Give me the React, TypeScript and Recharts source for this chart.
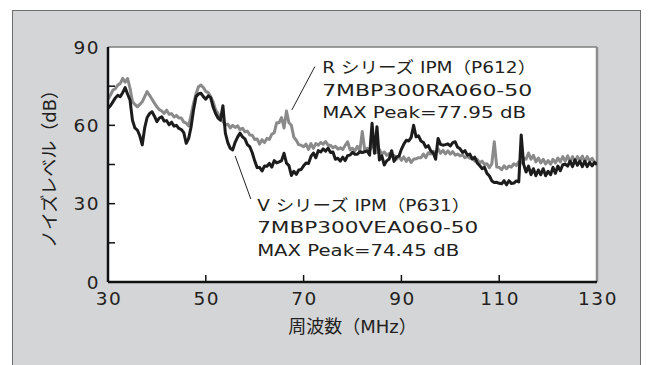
import React from 'react';
import { LineChart, Line, XAxis, YAxis, CartesianGrid, ReferenceLine, ReferenceDot } from 'recharts';

// Frequency sampling (MHz): first point and step of the hand-read samples
const FREQ_START = 30;
const FREQ_STEP = 0.5;

// R series IPM (P612) noise level, dB, read every 0.5 MHz from 30 to 130 MHz
const rSeriesDb = [
  70, 71.6, 73.5, 74, 75.4, 76, 78, 76.5, 77.95, 74.2,
  69, 68, 67.1, 68, 69, 71, 72.9, 71.5, 70, 68.5,
  67.1, 66, 65.5, 64.6, 65.8, 64.2, 64.5, 63.2, 63.8, 62.8,
  62.8, 61.2, 60.8, 59.8, 64, 68.4, 72, 74.8, 75.4, 74.5,
  73, 72.5, 71, 69, 65.9, 64.5, 62, 61.5, 60.1, 60.5,
  59, 60, 59.2, 59.8, 58.3, 58.9, 57.5, 57.8, 56.3, 56.2,
  54.6, 54.8, 52.8, 54.5, 53.4, 55, 54.6, 56.6, 57.2, 61,
  61, 63, 59, 65.5, 61, 60, 55.5, 54.3, 52.6, 52.4,
  51.8, 52.8, 50.8, 53, 51.2, 53, 52.4, 53.4, 52.8, 53.8,
  52.4, 52.4, 51.4, 52, 50.9, 51.4, 50.7, 52.3, 53.7, 50.6,
  51.2, 50.2, 52, 50.2, 57.6, 50.6, 51.2, 50.5, 51.8, 54,
  49.6, 50.8, 49, 49.8, 48.5, 49.2, 48.1, 48.5, 47, 48.2,
  46.6, 47.9, 46.2, 47.5, 45.8, 47, 47.2, 47.6, 47.6, 49,
  47.6, 49.5, 49, 50.1, 49.6, 51, 49.3, 50.4, 49.1, 50.2,
  49, 49.9, 48.6, 49, 48.3, 48.7, 47.6, 48, 47.4, 47.5,
  46.3, 47, 45.6, 46.3, 45, 45.3, 43.8, 45.4, 53.7, 44,
  43.9, 43, 44.5, 43.4, 44.4, 44, 45.3, 44.6, 46, 45.6,
  47.4, 47, 49.4, 47, 48.5, 46, 47.5, 45.6, 47, 45.2,
  46.5, 45.1, 47, 45.6, 47.5, 46, 48, 46.3, 48.3, 46,
  48, 46, 48, 46.6, 48.2, 46, 48, 46.3, 47.4, 45.7,
  46,
];

// V series IPM (P631) noise level, dB, read every 0.5 MHz from 30 to 130 MHz
const vSeriesDb = [
  66.6, 67.5, 69, 70.5, 71.5, 71, 72.5, 74.45, 72, 69.7,
  62, 59, 58.2, 56, 52.5, 59, 63, 64.5, 65.2, 63.5,
  61.4, 62.8, 63.3, 61.6, 61.8, 60.2, 61.2, 59.7, 60, 58.8,
  58.4, 57.2, 53.1, 55, 59.5, 66, 71, 72, 72.3, 71,
  70, 71.3, 70.6, 67, 64.5, 62.8, 62, 67.5, 57, 53.4,
  51.2, 50.6, 53.5, 55.5, 57, 55.6, 54.8, 52.6, 51.8, 49.5,
  46.4, 43.8, 43.9, 42.5, 44.4, 44.3, 45.4, 44, 46.5, 45.6,
  46, 46.5, 49.3, 45.5, 44.6, 40.8, 42.4, 41.2, 42.9, 43.1,
  44.5, 45.6, 45.4, 48.1, 49.4, 47.6, 50.3, 49.8, 51, 50.1,
  51.3, 49.6, 49.8, 47, 47.4, 46.3, 47.8, 46.5, 48.4, 48.6,
  49.7, 48.9, 48.9, 49.9, 49.6, 49.9, 50.2, 48.6, 60.8, 49.3,
  59.5, 46.7, 48.3, 44.8, 46.4, 47.1, 50.3, 46.2, 47.9, 48.2,
  50.8, 52.8, 54.3, 54, 55.4, 60, 55.6, 56, 54, 53.4,
  51.6, 52.2, 50.2, 49.4, 47, 55, 52.7, 52.4, 52.6, 52.9,
  52.1, 53.4, 53.7, 51.6, 51, 49.6, 50.3, 48.6, 49, 47.1,
  47.8, 45.6, 44.6, 43.4, 43.9, 41.6, 40.6, 38.7, 38.1, 38.2,
  37.8, 37.6, 38.8, 37.2, 38.8, 37.7, 37.9, 38.7, 38.3, 56.3,
  45, 42.1, 44.4, 41.1, 43.4, 40.7, 42.9, 41.1, 43.4, 40.7,
  42.4, 41.1, 43.9, 41.6, 44.4, 42.6, 44.9, 45.1, 44.4, 46.3,
  44.2, 46.8, 44.7, 46.3, 44.2, 46.3, 44.2, 45.8, 44.5, 45.8,
  45,
];

const xTicks = [30, 50, 70, 90, 110, 130];
const yTicks = [0, 15, 30, 45, 60, 75, 90];
const yLabelTicks = [0, 30, 60, 90];
const xAxisTitle = '周波数（MHz）';
const yAxisTitle = 'ノイズレベル（dB）';
const rNoteLines = ['R シリーズ IPM（P612）', '7MBP300RA060-50', 'MAX Peak=77.95 dB'];
const vNoteLines = ['V シリーズ IPM（P631）', '7MBP300VEA060-50', 'MAX Peak=74.45 dB'];

// annotation anchors & leader lines (data coordinates)
const rNoteAnchor = { x: 73.8, y: 82.3 };
const vNoteAnchor = { x: 60.5, y: 29.5 };
const rLeader = [{ x: 72.3, y: 82.5 }, { x: 67.6, y: 65.9 }];
const vLeader = [{ x: 56.0, y: 48.3 }, { x: 59.2, y: 31.8 }];

const data = rSeriesDb.map((r, i) => ({ f: FREQ_START + i * FREQ_STEP, r, v: vSeriesDb[i] }));

const FONT = '"DejaVu Sans", "Noto Sans CJK JP", sans-serif';
const TEXT_COLOR = '#231f20';
const rNoteWidths = [214, 210, 204];
const vNoteWidths = [213, 221, 202];

const XTick = (props: any) => {
  const { x, y, payload } = props;
  const v = payload.value;
  const inner = v > 30 && v < 130;
  return (
    <g>
      {inner && <line x1={x} x2={x} y1={y} y2={y - 7} stroke="#111" strokeWidth={1.5} />}
      <text x={x + 1} y={y + 22.5} textAnchor="middle" fontSize={18.5} letterSpacing={1.5} fontFamily={FONT} fill={TEXT_COLOR}>
        {v}
      </text>
    </g>
  );
};

const YTick = (props: any) => {
  const { x, y, payload } = props;
  const v = payload.value;
  const inner = v > 0 && v < 90;
  return (
    <g>
      {inner && <line x1={x} x2={x + 7} y1={y} y2={y} stroke="#111" strokeWidth={1.5} />}
      {yLabelTicks.includes(v) && (
        <text x={x - 8} y={y + 6.5} textAnchor="end" fontSize={18.5} letterSpacing={1.5} fontFamily={FONT} fill={TEXT_COLOR}>
          {v}
        </text>
      )}
    </g>
  );
};

const XTitle = (props: any) => {
  const vb = props.viewBox || {};
  return (
    <text x={vb.x + vb.width / 2} y={vb.y + 51} textAnchor="middle" fontSize={18} fontFamily={FONT} fill={TEXT_COLOR}>
      {xAxisTitle}
    </text>
  );
};

const YTitle = (props: any) => {
  const vb = props.viewBox || {};
  const cx = 50;
  const cy = vb.y + vb.height / 2;
  return (
    <text
      x={cx}
      y={cy}
      transform={`rotate(-90 ${cx} ${cy})`}
      dy={6}
      textAnchor="middle"
      fontSize={18}
      fontFamily={FONT}
      fill={TEXT_COLOR}
    >
      {yAxisTitle}
    </text>
  );
};

const NoteLabel = (props: any) => {
  const { viewBox, lines, widths } = props;
  const x = viewBox.x + (viewBox.width || 0) / 2;
  const y = viewBox.y + (viewBox.height || 0) / 2;
  return (
    <g>
      {lines.map((t: string, i: number) => (
        <text
          key={i}
          x={x}
          y={y + 6 + i * 22.4}
          textLength={widths[i]}
          lengthAdjust="spacingAndGlyphs"
          fontSize={16}
          fontFamily={FONT}
          fill={TEXT_COLOR}
        >
          {t}
        </text>
      ))}
    </g>
  );
};

export default function App() {
  return (
    <div style={{ position: 'absolute', left: 0, top: 0, width: 650, height: 365, overflow: 'hidden', background: '#fff' }}>
      <div
        style={{
          position: 'absolute',
          left: 12,
          top: 10,
          width: 629,
          height: 400,
          background: '#d4d5d7',
          border: '1px solid #6e6e6e',
          boxSizing: 'border-box',
        }}
      />
      <div style={{ position: 'absolute', left: 0, top: 0 }}>
        <LineChart width={650} height={365} data={data} margin={{ top: 47, right: 53, bottom: 0, left: 0 }}>
          <CartesianGrid horizontal={false} vertical={false} fill="#ffffff" stroke="none" />
          <XAxis
            dataKey="f"
            type="number"
            domain={[30, 130]}
            ticks={xTicks}
            interval={0}
            tickSize={0}
            tickMargin={0}
            height={83}
            tickLine={false}
            tick={<XTick />}
            axisLine={{ stroke: '#111', strokeWidth: 2.5 }}
            allowDataOverflow
            label={<XTitle />}
          />
          <YAxis
            type="number"
            domain={[0, 90]}
            ticks={yTicks}
            interval={0}
            tickSize={0}
            tickMargin={0}
            width={108}
            tickLine={false}
            tick={<YTick />}
            axisLine={{ stroke: '#111', strokeWidth: 2.5 }}
            allowDataOverflow
            label={<YTitle />}
          />
          <ReferenceLine y={90} stroke="#7d7d7d" strokeWidth={1.5} />
          <ReferenceLine x={130} stroke="#8e8e8e" strokeWidth={2.5} />
          <Line
            dataKey="r"
            type="linear"
            stroke="#8a8a8a"
            strokeWidth={3}
            dot={false}
            strokeLinejoin="round"
            isAnimationActive={false}
          />
          <Line
            dataKey="v"
            type="linear"
            stroke="#1c1c1c"
            strokeWidth={3}
            dot={false}
            strokeLinejoin="round"
            isAnimationActive={false}
          />
          <ReferenceLine segment={rLeader} stroke="#222" strokeWidth={1} />
          <ReferenceLine segment={vLeader} stroke="#222" strokeWidth={1} />
          <ReferenceDot
            x={rNoteAnchor.x}
            y={rNoteAnchor.y}
            r={0}
            fill="none"
            stroke="none"
            label={<NoteLabel lines={rNoteLines} widths={rNoteWidths} />}
          />
          <ReferenceDot
            x={vNoteAnchor.x}
            y={vNoteAnchor.y}
            r={0}
            fill="none"
            stroke="none"
            label={<NoteLabel lines={vNoteLines} widths={vNoteWidths} />}
          />
        </LineChart>
      </div>
    </div>
  );
}
